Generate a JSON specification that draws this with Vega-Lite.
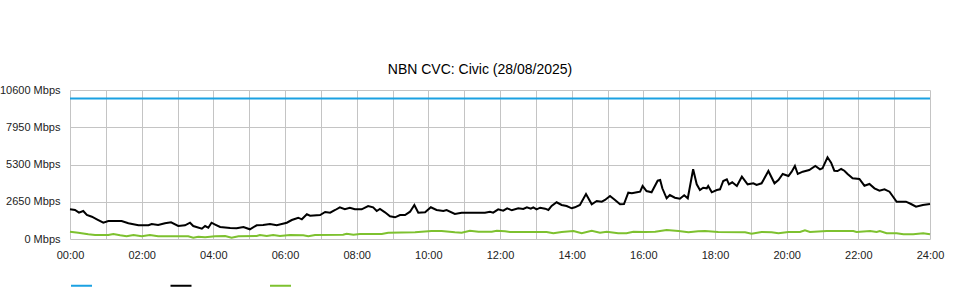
{
  "$schema": "https://vega.github.io/schema/vega-lite/v6.json",
  "width": 860,
  "height": 149,
  "autosize": {"type": "none"},
  "padding": {"left": 70, "top": 90, "right": 30, "bottom": 61},
  "background": "white",
  "title": {"text": "NBN CVC: Civic (28/08/2025)", "fontSize": 14, "fontWeight": "normal", "font": "Liberation Sans", "color": "#000000", "offset": 7, "anchor": "middle", "dx": -20},
  "config": {"view": {"stroke": null}, "font": "Liberation Sans"},
  "data": {"values": [
    {"s": "Capacity", "h": 0, "v": 10000},
    {"s": "Capacity", "h": 24, "v": 10000},
    {"s": "Download", "h": 0, "v": 2113},
    {"s": "Download", "h": 0.14, "v": 2063},
    {"s": "Download", "h": 0.25, "v": 1871},
    {"s": "Download", "h": 0.37, "v": 1992},
    {"s": "Download", "h": 0.47, "v": 1707},
    {"s": "Download", "h": 0.61, "v": 1586},
    {"s": "Download", "h": 0.75, "v": 1401},
    {"s": "Download", "h": 0.93, "v": 1160},
    {"s": "Download", "h": 1.07, "v": 1280},
    {"s": "Download", "h": 1.44, "v": 1280},
    {"s": "Download", "h": 1.63, "v": 1117},
    {"s": "Download", "h": 1.91, "v": 975},
    {"s": "Download", "h": 2.19, "v": 975},
    {"s": "Download", "h": 2.28, "v": 1067},
    {"s": "Download", "h": 2.46, "v": 996},
    {"s": "Download", "h": 2.65, "v": 1117},
    {"s": "Download", "h": 2.82, "v": 1188},
    {"s": "Download", "h": 3.02, "v": 925},
    {"s": "Download", "h": 3.21, "v": 975},
    {"s": "Download", "h": 3.35, "v": 1160},
    {"s": "Download", "h": 3.44, "v": 925},
    {"s": "Download", "h": 3.68, "v": 733},
    {"s": "Download", "h": 3.77, "v": 925},
    {"s": "Download", "h": 3.86, "v": 804},
    {"s": "Download", "h": 3.95, "v": 1160},
    {"s": "Download", "h": 4.05, "v": 1030},
    {"s": "Download", "h": 4.19, "v": 854},
    {"s": "Download", "h": 4.47, "v": 783},
    {"s": "Download", "h": 4.65, "v": 761},
    {"s": "Download", "h": 4.84, "v": 854},
    {"s": "Download", "h": 5.02, "v": 690},
    {"s": "Download", "h": 5.21, "v": 975},
    {"s": "Download", "h": 5.39, "v": 996},
    {"s": "Download", "h": 5.58, "v": 1067},
    {"s": "Download", "h": 5.77, "v": 975},
    {"s": "Download", "h": 6.05, "v": 1160},
    {"s": "Download", "h": 6.19, "v": 1352},
    {"s": "Download", "h": 6.37, "v": 1515},
    {"s": "Download", "h": 6.47, "v": 1401},
    {"s": "Download", "h": 6.61, "v": 1757},
    {"s": "Download", "h": 6.70, "v": 1658},
    {"s": "Download", "h": 6.98, "v": 1707},
    {"s": "Download", "h": 7.12, "v": 1921},
    {"s": "Download", "h": 7.26, "v": 1871},
    {"s": "Download", "h": 7.40, "v": 2063},
    {"s": "Download", "h": 7.53, "v": 2255},
    {"s": "Download", "h": 7.67, "v": 2113},
    {"s": "Download", "h": 7.81, "v": 2227},
    {"s": "Download", "h": 7.95, "v": 2113},
    {"s": "Download", "h": 8.14, "v": 2113},
    {"s": "Download", "h": 8.32, "v": 2348},
    {"s": "Download", "h": 8.46, "v": 2255},
    {"s": "Download", "h": 8.56, "v": 1992},
    {"s": "Download", "h": 8.65, "v": 2134},
    {"s": "Download", "h": 8.79, "v": 1899},
    {"s": "Download", "h": 8.93, "v": 1615},
    {"s": "Download", "h": 9.07, "v": 1544},
    {"s": "Download", "h": 9.21, "v": 1707},
    {"s": "Download", "h": 9.35, "v": 1707},
    {"s": "Download", "h": 9.49, "v": 1942},
    {"s": "Download", "h": 9.61, "v": 2419},
    {"s": "Download", "h": 9.72, "v": 1871},
    {"s": "Download", "h": 9.91, "v": 1899},
    {"s": "Download", "h": 10.07, "v": 2255},
    {"s": "Download", "h": 10.23, "v": 2063},
    {"s": "Download", "h": 10.42, "v": 1992},
    {"s": "Download", "h": 10.51, "v": 2063},
    {"s": "Download", "h": 10.74, "v": 1778},
    {"s": "Download", "h": 10.93, "v": 1871},
    {"s": "Download", "h": 11.58, "v": 1871},
    {"s": "Download", "h": 11.72, "v": 1942},
    {"s": "Download", "h": 11.81, "v": 1871},
    {"s": "Download", "h": 11.95, "v": 2113},
    {"s": "Download", "h": 12.09, "v": 2013},
    {"s": "Download", "h": 12.20, "v": 2184},
    {"s": "Download", "h": 12.33, "v": 2042},
    {"s": "Download", "h": 12.51, "v": 2184},
    {"s": "Download", "h": 12.65, "v": 2134},
    {"s": "Download", "h": 12.75, "v": 2255},
    {"s": "Download", "h": 12.86, "v": 2156},
    {"s": "Download", "h": 12.93, "v": 2255},
    {"s": "Download", "h": 13.02, "v": 2113},
    {"s": "Download", "h": 13.12, "v": 2227},
    {"s": "Download", "h": 13.26, "v": 2156},
    {"s": "Download", "h": 13.35, "v": 2063},
    {"s": "Download", "h": 13.44, "v": 2348},
    {"s": "Download", "h": 13.58, "v": 2611},
    {"s": "Download", "h": 13.72, "v": 2419},
    {"s": "Download", "h": 13.86, "v": 2348},
    {"s": "Download", "h": 14.00, "v": 2184},
    {"s": "Download", "h": 14.09, "v": 2255},
    {"s": "Download", "h": 14.23, "v": 2419},
    {"s": "Download", "h": 14.40, "v": 3201},
    {"s": "Download", "h": 14.56, "v": 2468},
    {"s": "Download", "h": 14.70, "v": 2703},
    {"s": "Download", "h": 14.84, "v": 2653},
    {"s": "Download", "h": 14.93, "v": 2774},
    {"s": "Download", "h": 15.07, "v": 3059},
    {"s": "Download", "h": 15.21, "v": 2774},
    {"s": "Download", "h": 15.35, "v": 2468},
    {"s": "Download", "h": 15.46, "v": 2490},
    {"s": "Download", "h": 15.58, "v": 3294},
    {"s": "Download", "h": 15.68, "v": 3251},
    {"s": "Download", "h": 15.82, "v": 3322},
    {"s": "Download", "h": 15.91, "v": 3365},
    {"s": "Download", "h": 15.98, "v": 3770},
    {"s": "Download", "h": 16.09, "v": 3415},
    {"s": "Download", "h": 16.23, "v": 3322},
    {"s": "Download", "h": 16.40, "v": 4148},
    {"s": "Download", "h": 16.47, "v": 4197},
    {"s": "Download", "h": 16.53, "v": 3607},
    {"s": "Download", "h": 16.65, "v": 2895},
    {"s": "Download", "h": 16.74, "v": 3130},
    {"s": "Download", "h": 16.88, "v": 2938},
    {"s": "Download", "h": 17.02, "v": 2867},
    {"s": "Download", "h": 17.14, "v": 3109},
    {"s": "Download", "h": 17.24, "v": 2895},
    {"s": "Download", "h": 17.39, "v": 4958},
    {"s": "Download", "h": 17.49, "v": 3891},
    {"s": "Download", "h": 17.58, "v": 3486},
    {"s": "Download", "h": 17.67, "v": 3650},
    {"s": "Download", "h": 17.77, "v": 3607},
    {"s": "Download", "h": 17.81, "v": 3770},
    {"s": "Download", "h": 17.91, "v": 3322},
    {"s": "Download", "h": 18.05, "v": 3486},
    {"s": "Download", "h": 18.14, "v": 3536},
    {"s": "Download", "h": 18.23, "v": 4126},
    {"s": "Download", "h": 18.33, "v": 4247},
    {"s": "Download", "h": 18.39, "v": 3891},
    {"s": "Download", "h": 18.48, "v": 4034},
    {"s": "Download", "h": 18.61, "v": 3770},
    {"s": "Download", "h": 18.75, "v": 4432},
    {"s": "Download", "h": 18.91, "v": 3891},
    {"s": "Download", "h": 19.07, "v": 3962},
    {"s": "Download", "h": 19.16, "v": 3841},
    {"s": "Download", "h": 19.30, "v": 3962},
    {"s": "Download", "h": 19.49, "v": 4837},
    {"s": "Download", "h": 19.66, "v": 3962},
    {"s": "Download", "h": 19.77, "v": 4197},
    {"s": "Download", "h": 19.89, "v": 4624},
    {"s": "Download", "h": 20.05, "v": 4482},
    {"s": "Download", "h": 20.14, "v": 4788},
    {"s": "Download", "h": 20.23, "v": 5193},
    {"s": "Download", "h": 20.31, "v": 4624},
    {"s": "Download", "h": 20.45, "v": 4788},
    {"s": "Download", "h": 20.63, "v": 4909},
    {"s": "Download", "h": 20.80, "v": 5193},
    {"s": "Download", "h": 20.93, "v": 4958},
    {"s": "Download", "h": 21.00, "v": 5030},
    {"s": "Download", "h": 21.14, "v": 5812},
    {"s": "Download", "h": 21.24, "v": 5428},
    {"s": "Download", "h": 21.33, "v": 4859},
    {"s": "Download", "h": 21.42, "v": 4837},
    {"s": "Download", "h": 21.52, "v": 4980},
    {"s": "Download", "h": 21.61, "v": 4859},
    {"s": "Download", "h": 21.70, "v": 4624},
    {"s": "Download", "h": 21.84, "v": 4318},
    {"s": "Download", "h": 22.03, "v": 4268},
    {"s": "Download", "h": 22.17, "v": 3792},
    {"s": "Download", "h": 22.31, "v": 3913},
    {"s": "Download", "h": 22.45, "v": 3607},
    {"s": "Download", "h": 22.59, "v": 3436},
    {"s": "Download", "h": 22.73, "v": 3536},
    {"s": "Download", "h": 22.87, "v": 3365},
    {"s": "Download", "h": 23.07, "v": 2653},
    {"s": "Download", "h": 23.33, "v": 2653},
    {"s": "Download", "h": 23.47, "v": 2490},
    {"s": "Download", "h": 23.61, "v": 2298},
    {"s": "Download", "h": 23.80, "v": 2419},
    {"s": "Download", "h": 24, "v": 2490},
    {"s": "Upload", "h": 0, "v": 520},
    {"s": "Upload", "h": 0.23, "v": 450},
    {"s": "Upload", "h": 0.51, "v": 330},
    {"s": "Upload", "h": 0.70, "v": 285},
    {"s": "Upload", "h": 1.07, "v": 285},
    {"s": "Upload", "h": 1.21, "v": 356},
    {"s": "Upload", "h": 1.40, "v": 263},
    {"s": "Upload", "h": 1.58, "v": 192},
    {"s": "Upload", "h": 1.77, "v": 285},
    {"s": "Upload", "h": 2.00, "v": 192},
    {"s": "Upload", "h": 2.23, "v": 285},
    {"s": "Upload", "h": 2.46, "v": 192},
    {"s": "Upload", "h": 3.30, "v": 192},
    {"s": "Upload", "h": 3.44, "v": 92},
    {"s": "Upload", "h": 3.58, "v": 164},
    {"s": "Upload", "h": 3.77, "v": 121},
    {"s": "Upload", "h": 4.05, "v": 192},
    {"s": "Upload", "h": 4.33, "v": 213},
    {"s": "Upload", "h": 4.51, "v": 92},
    {"s": "Upload", "h": 4.70, "v": 192},
    {"s": "Upload", "h": 5.21, "v": 213},
    {"s": "Upload", "h": 5.30, "v": 285},
    {"s": "Upload", "h": 5.49, "v": 213},
    {"s": "Upload", "h": 5.67, "v": 285},
    {"s": "Upload", "h": 5.86, "v": 213},
    {"s": "Upload", "h": 6.14, "v": 285},
    {"s": "Upload", "h": 6.51, "v": 263},
    {"s": "Upload", "h": 6.65, "v": 192},
    {"s": "Upload", "h": 6.84, "v": 285},
    {"s": "Upload", "h": 7.62, "v": 306},
    {"s": "Upload", "h": 7.72, "v": 377},
    {"s": "Upload", "h": 7.91, "v": 306},
    {"s": "Upload", "h": 8.09, "v": 356},
    {"s": "Upload", "h": 8.70, "v": 356},
    {"s": "Upload", "h": 8.88, "v": 450},
    {"s": "Upload", "h": 9.63, "v": 475},
    {"s": "Upload", "h": 10.09, "v": 570},
    {"s": "Upload", "h": 10.37, "v": 570},
    {"s": "Upload", "h": 10.74, "v": 475},
    {"s": "Upload", "h": 10.93, "v": 450},
    {"s": "Upload", "h": 11.16, "v": 590},
    {"s": "Upload", "h": 11.40, "v": 520},
    {"s": "Upload", "h": 11.77, "v": 520},
    {"s": "Upload", "h": 11.91, "v": 590},
    {"s": "Upload", "h": 12.14, "v": 548},
    {"s": "Upload", "h": 12.28, "v": 498},
    {"s": "Upload", "h": 13.30, "v": 498},
    {"s": "Upload", "h": 13.49, "v": 405},
    {"s": "Upload", "h": 13.72, "v": 498},
    {"s": "Upload", "h": 14.05, "v": 570},
    {"s": "Upload", "h": 14.28, "v": 405},
    {"s": "Upload", "h": 14.56, "v": 590},
    {"s": "Upload", "h": 14.79, "v": 450},
    {"s": "Upload", "h": 14.98, "v": 520},
    {"s": "Upload", "h": 15.30, "v": 405},
    {"s": "Upload", "h": 15.53, "v": 405},
    {"s": "Upload", "h": 15.72, "v": 520},
    {"s": "Upload", "h": 16.05, "v": 500},
    {"s": "Upload", "h": 16.33, "v": 520},
    {"s": "Upload", "h": 16.65, "v": 640},
    {"s": "Upload", "h": 16.98, "v": 570},
    {"s": "Upload", "h": 17.26, "v": 475},
    {"s": "Upload", "h": 17.53, "v": 548},
    {"s": "Upload", "h": 17.72, "v": 570},
    {"s": "Upload", "h": 18.09, "v": 498},
    {"s": "Upload", "h": 18.84, "v": 475},
    {"s": "Upload", "h": 19.02, "v": 377},
    {"s": "Upload", "h": 19.30, "v": 498},
    {"s": "Upload", "h": 19.58, "v": 475},
    {"s": "Upload", "h": 19.77, "v": 405},
    {"s": "Upload", "h": 20.05, "v": 498},
    {"s": "Upload", "h": 20.37, "v": 498},
    {"s": "Upload", "h": 20.51, "v": 617},
    {"s": "Upload", "h": 20.65, "v": 498},
    {"s": "Upload", "h": 21.12, "v": 570},
    {"s": "Upload", "h": 21.86, "v": 570},
    {"s": "Upload", "h": 21.95, "v": 498},
    {"s": "Upload", "h": 22.33, "v": 570},
    {"s": "Upload", "h": 22.51, "v": 498},
    {"s": "Upload", "h": 22.60, "v": 570},
    {"s": "Upload", "h": 22.79, "v": 405},
    {"s": "Upload", "h": 23.07, "v": 405},
    {"s": "Upload", "h": 23.26, "v": 334},
    {"s": "Upload", "h": 23.53, "v": 334},
    {"s": "Upload", "h": 23.81, "v": 405},
    {"s": "Upload", "h": 24, "v": 334}
  ]},
  "mark": {"type": "line", "strokeWidth": 2, "interpolate": "linear"},
  "encoding": {
    "x": {
      "field": "h", "type": "quantitative",
      "scale": {"domain": [0, 24], "nice": false, "zero": false},
      "axis": {
        "values": [0,1,2,3,4,5,6,7,8,9,10,11,12,13,14,15,16,17,18,19,20,21,22,23,24],
        "labelExpr": "datum.value % 2 == 0 ? (datum.value < 10 ? '0' : '') + datum.value + ':00' : ''",
        "grid": true, "gridColor": "#c4c4c4", "gridWidth": 1, "domain": false, "ticks": false,
        "labelFontSize": 11, "labelFont": "Liberation Sans", "labelColor": "#222222", "labelPadding": 10,
        "labelFlush": false, "labelOverlap": false, "title": null
      }
    },
    "y": {
      "field": "v", "type": "quantitative",
      "scale": {"domain": [0, 10600], "nice": false},
      "axis": {
        "values": [0, 2650, 5300, 7950, 10600],
        "labelExpr": "format(datum.value, 'd') + ' Mbps'",
        "grid": true, "gridColor": "#c4c4c4", "gridWidth": 1, "domain": false, "ticks": false,
        "labelFontSize": 11, "labelFont": "Liberation Sans", "labelColor": "#222222", "labelPadding": 10,
        "labelOverlap": false, "title": null
      }
    },
    "color": {
      "field": "s", "type": "nominal",
      "scale": {"domain": ["Capacity", "Download", "Upload"], "range": ["#1ba1e2", "#000000", "#7dc12f"]},
      "legend": {
        "orient": "none", "legendX": 0, "legendY": 184, "direction": "horizontal",
        "symbolType": "stroke", "symbolSize": 441, "symbolStrokeWidth": 2,
        "labelExpr": "''", "columnPadding": 69.5, "padding": 0, "title": null
      }
    }
  }
}
